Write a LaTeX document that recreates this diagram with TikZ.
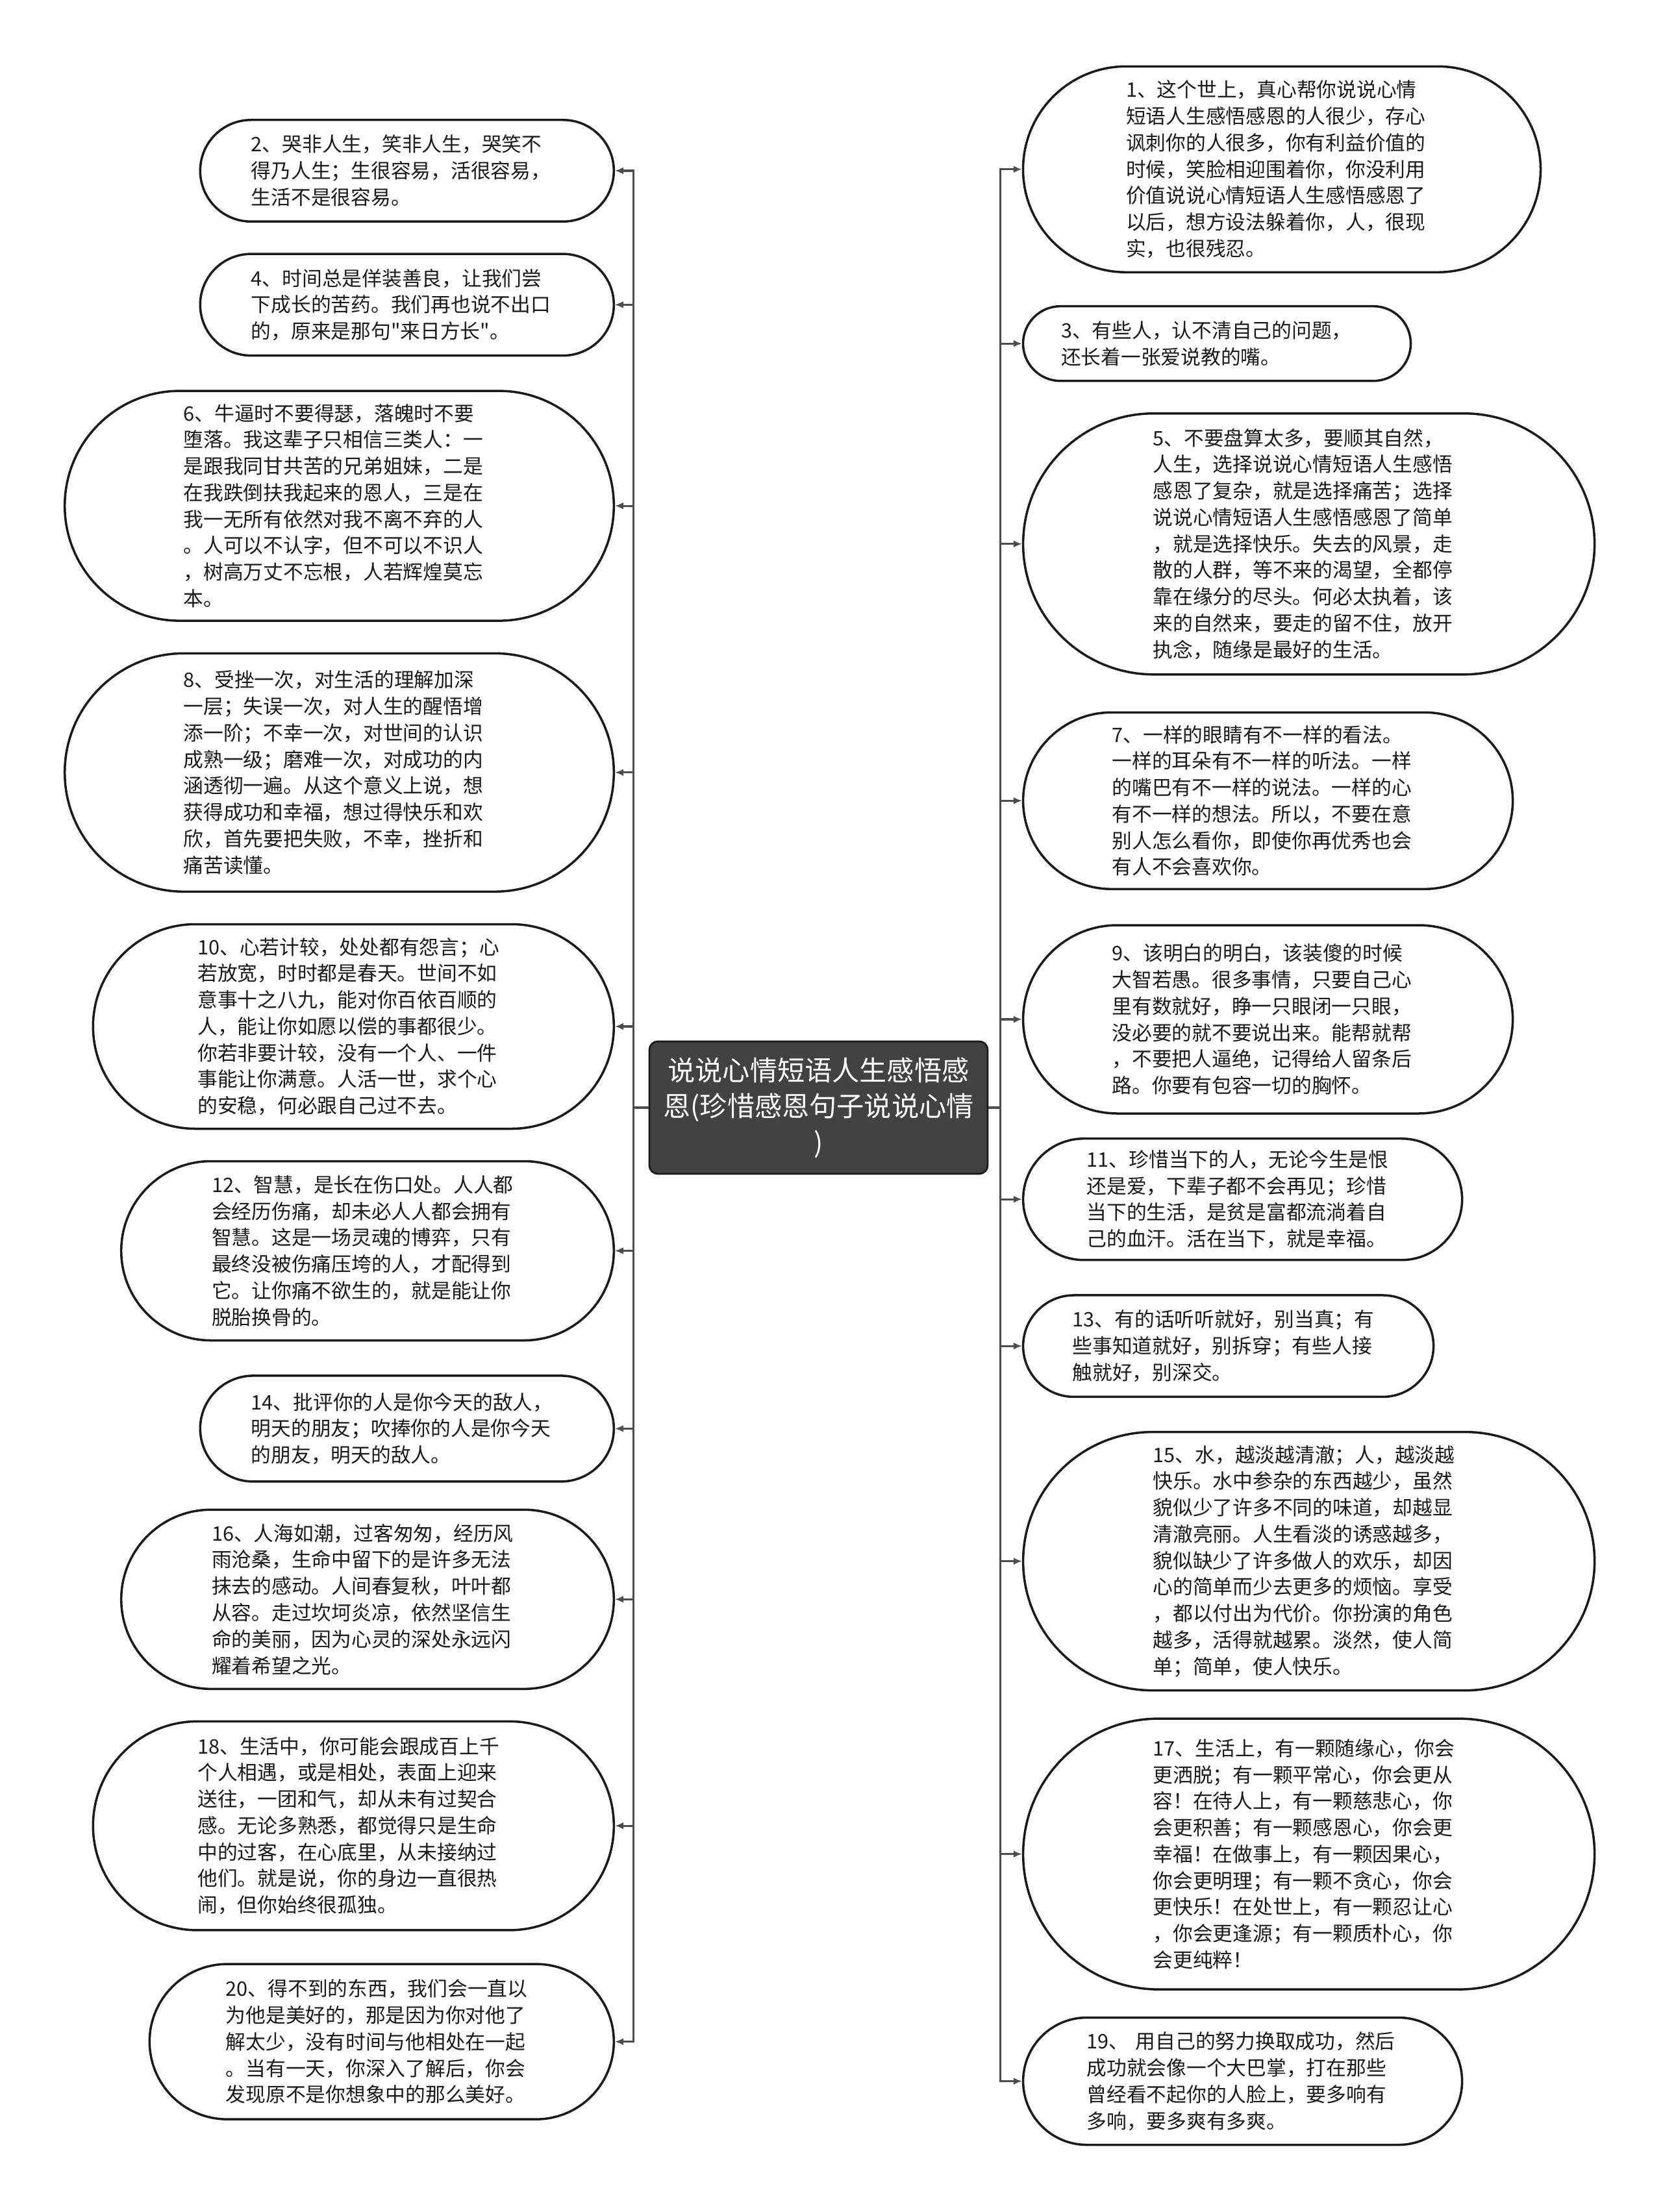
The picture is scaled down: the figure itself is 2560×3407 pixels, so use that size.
\documentclass[tikz,border=0pt]{standalone}
\usepackage{fontspec}
\setmainfont{Noto Sans CJK SC}[Ligatures=TeXOff]
\usepackage{xcolor}
\usepackage{tikz}
\usetikzlibrary{arrows.meta}

\definecolor{rootgray}{HTML}{424242}
\definecolor{wiregray}{HTML}{4D4D4D}
\definecolor{inkblack}{HTML}{1A1A1A}

\tikzset{
    leafbox/.style 2 args={draw=inkblack, line width=1pt, fill=white,
        minimum width=#1*0.1mm, minimum height=#2*0.1mm,
        rounded corners=#2*0.05mm, inner sep=0pt,
        text width=48mm, align=left, text=inkblack,
        font=\fontsize{8.75pt}{11.6pt}\selectfont},
    rootbox/.style={draw=inkblack, line width=0.8pt, fill=rootgray,
        minimum width=52.1mm, minimum height=20.4mm,
        rounded corners=1.3mm, inner sep=0pt,
        text width=50mm, align=center, text=white,
        font=\fontsize{12pt}{15.8pt}\selectfont},
    wire/.style={draw=wiregray, line width=0.9pt}
}

\begin{document}
\begin{tikzpicture}[x=0.1mm, y=-0.1mm, >={Latex[length=1.3mm,width=1.1mm]}]
    \useasboundingbox (0,0) rectangle (2560,3407);

    \node[rootbox] (root) at (1260.5,1706) {说说心情短语人生感悟感\\恩(珍惜感恩句子说说心情\\)};

    % left side, the even ones
    \node[leafbox={637}{156.5}] (l2) at (626.8,263) {2、哭非人生，笑非人生，哭笑不\\得乃人生；生很容易，活很容易，\\生活不是很容易。};
    \node[leafbox={637}{156.5}] (l4) at (626.8,469.4) {4、时间总是佯装善良，让我们尝\\下成长的苦药。我们再也说不出口\\的，原来是那句"来日方长"。};
    \node[leafbox={845.6}{354}] (l6) at (522.5,779.1) {6、牛逼时不要得瑟，落魄时不要\\堕落。我这辈子只相信三类人：一\\是跟我同甘共苦的兄弟姐妹，二是\\在我跌倒扶我起来的恩人，三是在\\我一无所有依然对我不离不弃的人\\。人可以不认字，但不可以不识人\\，树高万丈不忘根，人若辉煌莫忘\\本。};
    \node[leafbox={845.6}{367}] (l8) at (522.5,1189.8) {8、受挫一次，对生活的理解加深\\一层；失误一次，对人生的醒悟增\\添一阶；不幸一次，对世间的认识\\成熟一级；磨难一次，对成功的内\\涵透彻一遍。从这个意义上说，想\\获得成功和幸福，想过得快乐和欢\\欣，首先要把失败，不幸，挫折和\\痛苦读懂。};
    \node[leafbox={802}{315}] (l10) at (544.3,1581) {10、心若计较，处处都有怨言；心\\若放宽，时时都是春天。世间不如\\意事十之八九，能对你百依百顺的\\人，能让你如愿以偿的事都很少。\\你若非要计较，没有一个人、一件\\事能让你满意。人活一世，求个心\\的安稳，何必跟自己过不去。};
    \node[leafbox={758.6}{276}] (l12) at (566,1926.5) {12、智慧，是长在伤口处。人人都\\会经历伤痛，却未必人人都会拥有\\智慧。这是一场灵魂的博弈，只有\\最终没被伤痛压垮的人，才配得到\\它。让你痛不欲生的，就是能让你\\脱胎换骨的。};
    \node[leafbox={637}{163}] (l14) at (626.8,2200.4) {14、批评你的人是你今天的敌人，\\明天的朋友；吹捧你的人是你今天\\的朋友，明天的敌人。};
    \node[leafbox={758.6}{276}] (l16) at (566,2463.3) {16、人海如潮，过客匆匆，经历风\\雨沧桑，生命中留下的是许多无法\\抹去的感动。人间春复秋，叶叶都\\从容。走过坎坷炎凉，依然坚信生\\命的美丽，因为心灵的深处永远闪\\耀着希望之光。};
    \node[leafbox={802}{321.6}] (l18) at (544.3,2812.1) {18、生活中，你可能会跟成百上千\\个人相遇，或是相处，表面上迎来\\送往，一团和气，却从未有过契合\\感。无论多熟悉，都觉得只是生命\\中的过客，在心底里，从未接纳过\\他们。就是说，你的身边一直很热\\闹，但你始终很孤独。};
    \node[leafbox={715}{239}] (l20) at (587.8,3144.6) {20、得不到的东西，我们会一直以\\为他是美好的，那是因为你对他了\\解太少，没有时间与他相处在一起\\。当有一天，你深入了解后，你会\\发现原不是你想象中的那么美好。};

    % right side, the odd ones
    \node[leafbox={797}{317}] (r1) at (1974,260.8) {1、这个世上，真心帮你说说心情\\短语人生感悟感恩的人很少，存心\\讽刺你的人很多，你有利益价值的\\时候，笑脸相迎围着你，你没利用\\价值说说心情短语人生感悟感恩了\\以后，想方设法躲着你，人，很现\\实，也很残忍。};
    \node[leafbox={597}{115}] (r3) at (1874,529.2) {3、有些人，认不清自己的问题，\\还长着一张爱说教的嘴。};
    \node[leafbox={880}{402}] (r5) at (2015.6,837.8) {5、不要盘算太多，要顺其自然，\\人生，选择说说心情短语人生感悟\\感恩了复杂，就是选择痛苦；选择\\说说心情短语人生感悟感恩了简单\\，就是选择快乐。失去的风景，走\\散的人群，等不来的渴望，全都停\\靠在缘分的尽头。何必太执着，该\\来的自然来，要走的留不住，放开\\执念，随缘是最好的生活。};
    \node[leafbox={754}{272}] (r7) at (1952.6,1233.3) {7、一样的眼睛有不一样的看法。\\一样的耳朵有不一样的听法。一样\\的嘴巴有不一样的说法。一样的心\\有不一样的想法。所以，不要在意\\别人怎么看你，即使你再优秀也会\\有人不会喜欢你。};
    \node[leafbox={754}{290}] (r9) at (1952.6,1570) {9、该明白的明白，该装傻的时候\\大智若愚。很多事情，只要自己心\\里有数就好，睁一只眼闭一只眼，\\没必要的就不要说出来。能帮就帮\\，不要把人逼绝，记得给人留条后\\路。你要有包容一切的胸怀。};
    \node[leafbox={676}{187}] (r11) at (1913.6,1847.2) {11、珍惜当下的人，无论今生是恨\\还是爱，下辈子都不会再见；珍惜\\当下的生活，是贫是富都流淌着自\\己的血汗。活在当下，就是幸福。};
    \node[leafbox={632}{156.5}] (r13) at (1891.6,2073.2) {13、有的话听听就好，别当真；有\\些事知道就好，别拆穿；有些人接\\触就好，别深交。};
    \node[leafbox={880}{398}] (r15) at (2015.6,2404.6) {15、水，越淡越清澈；人，越淡越\\快乐。水中参杂的东西越少，虽然\\貌似少了许多不同的味道，却越显\\清澈亮丽。人生看淡的诱惑越多，\\貌似缺少了许多做人的欢乐，却因\\心的简单而少去更多的烦恼。享受\\，都以付出为代价。你扮演的角色\\越多，活得就越累。淡然，使人简\\单；简单，使人快乐。};
    \node[leafbox={880}{417}] (r17) at (2015.6,2855.6) {17、生活上，有一颗随缘心，你会\\更洒脱；有一颗平常心，你会更从\\容！在待人上，有一颗慈悲心，你\\会更积善；有一颗感恩心，你会更\\幸福！在做事上，有一颗因果心，\\你会更明理；有一颗不贪心，你会\\更快乐！在处世上，有一颗忍让心\\，你会更逢源；有一颗质朴心，你\\会更纯粹！};
    \node[leafbox={676}{196}] (r19) at (1913.6,3205.5) {19、 用自己的努力换取成功，然后\\成功就会像一个大巴掌，打在那些\\曾经看不起你的人脸上，要多响有\\多响，要多爽有多爽。};

    % trunks left and right of the root
    \coordinate (lt) at (975.8,1706);
    \coordinate (rt) at (1540.8,1706);
    \draw[wire] (root.west) -- (lt);
    \draw[wire] (root.east) -- (rt);
    \foreach \leaf in {l2,l4,l6,l8,l10,l12,l14,l16,l18,l20}
        \draw[wire,->] (lt) |- (\leaf.east);
    \foreach \leaf in {r1,r3,r5,r7,r9,r11,r13,r15,r17,r19}
        \draw[wire,->] (rt) |- (\leaf.west);
\end{tikzpicture}
\end{document}
